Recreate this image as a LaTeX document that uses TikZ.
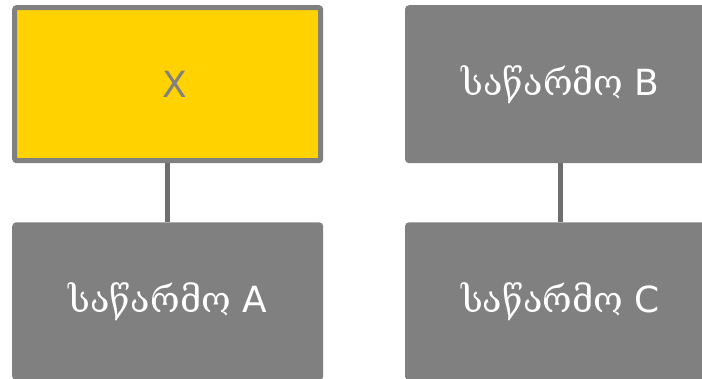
\documentclass[tikz,border=0pt]{standalone}
\usepackage{fontspec}
\setmainfont{DejaVu Sans}
\newfontfamily\geofont{DejaVu Serif}
\usetikzlibrary{positioning}
\definecolor{unitgray}{HTML}{808080}
\definecolor{linkgray}{HTML}{6E6E6E}
\definecolor{unitgold}{HTML}{FFD200}
\newcommand{\firm}[1]{{\geofont საწარმო} #1}

\begin{document}
\begin{tikzpicture}[x=1pt,y=1pt,
unit/.style={rectangle, rounded corners=2pt, draw=unitgray, line width=5pt,
  minimum width=306pt, minimum height=153pt, inner sep=0pt, font=\fontsize{36}{40}\selectfont},
plain/.style={unit,fill=unitgray,text=white},
top/.style={unit,fill=unitgold,text=unitgray},
link/.style={draw=linkgray,line width=5pt}]
\useasboundingbox (0,0) rectangle (702,-378);
\clip (0,0) rectangle (702,-378);

% left pair
\node[top] (x) at (167.7,-84.2) {\hspace*{14pt}X};
\node[plain] (a) at (167.7,-301.3) {\firm{A}};
% right pair
\node[plain] (b) at (560.5,-84.2) {\firm{B}};
\node[plain] (c) at (560.5,-301.3) {\firm{C}};

\draw[link] (x.south) -- (a.north);
\draw[link] (b.south) -- (c.north);
\end{tikzpicture}
\end{document}
